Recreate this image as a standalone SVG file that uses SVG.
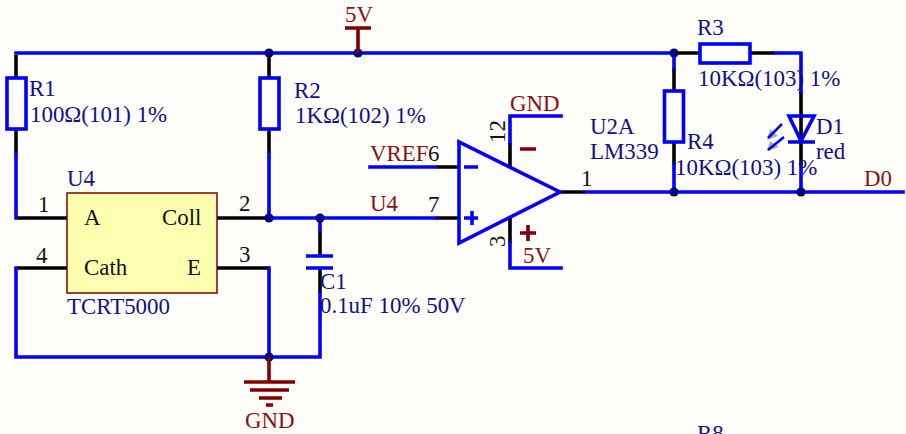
<svg xmlns="http://www.w3.org/2000/svg" width="906" height="434" viewBox="0 0 906 434">
<style>
.w{stroke:#0000ff;stroke-width:3.6;fill:none;stroke-linecap:square}
.k{stroke:#000;stroke-width:3.6;fill:none}
.r{stroke:#800000;stroke-width:3.6;fill:none}
.b{stroke:#0000ff;stroke-width:3.6;fill:none}
.d{fill:#000080}
text{font-family:"Liberation Serif","Times New Roman",serif;font-size:22.9px}
.n{fill:#10108c}
.m{fill:#8b1010}
.p{fill:#111}
</style>
<rect width="906" height="434" fill="#fffefb"/>
<g id="connectors">
<path class="k" d="M16 55V78M16 129V153M269 55V78M269 129V153M436 218H459M436 167H459M510 143V167M510 217V243M561 192H585M674 68V91M674 142V165M676 53H700M751 53H775M801 91V165M320 231V256M320 268V293M17 218H67M17 268H67M217 218H269M217 268H269"/>
<path class="w" d="M16 53H674M16 153V218M269 153V218M269 268V357M269 218H436M320 218V231M16 268V357H320V293M370 167H436M510 143V116H561M510 243V268H561M585 192H903M674 53V68M674 165V192M775 53H801V91M801 165V192"/>
</g>
<g id="junctions" class="d">
<circle cx="269" cy="53" r="4.600"/><circle cx="358" cy="53" r="4.600"/><circle cx="674" cy="53" r="4.600"/>
<circle cx="269" cy="218" r="4.600"/><circle cx="320" cy="218" r="4.600"/><circle cx="269" cy="357" r="4.600"/>
<circle cx="674" cy="192" r="4.600"/><circle cx="801" cy="192" r="4.600"/>
</g>
<g id="R1"><rect class="b" x="7" y="78" width="19" height="51"/><text class="n" x="29" y="96">R1</text><text class="n" x="30" y="122">100Ω(101) 1%</text></g>
<g id="R2"><rect class="b" x="260" y="78" width="19" height="51"/><text class="n" x="294" y="98">R2</text><text class="n" x="295" y="123">1KΩ(102) 1%</text></g>
<g id="R3"><rect class="b" x="700" y="44" width="50" height="19"/><text class="n" x="697" y="35">R3</text><text class="n" x="698" y="86">10KΩ(103) 1%</text></g>
<g id="R4"><rect class="b" x="664.500" y="91" width="19" height="51"/><text class="n" x="687" y="149">R4</text><text class="n" x="675" y="175">10KΩ(103) 1%</text></g>
<g id="D1">
<path class="b" d="M789 116H814L801 141ZM788 142H815"/>
<path d="M767 140L770 129L778 136ZM767 151L770 141L779 147Z" fill="#a8a8c0"/>
<path d="M782 124L768 138M784 137L768 150" stroke="#0000ff" stroke-width="2.500" fill="none"/>
<text class="n" x="816" y="134">D1</text><text class="n" x="816" y="159">red</text>
</g>
<g id="C1"><path class="b" d="M306 256H333M306 268H333"/><text class="n" x="320" y="289">C1</text><text class="n" x="320" y="313">0.1uF 10% 50V</text></g>
<g id="U4">
<rect x="67" y="193" width="150" height="100" fill="#ffffb0" stroke="#800000" stroke-width="1.500"/>
<text class="n" x="67" y="186">U4</text><text class="n" x="67" y="314">TCRT5000</text>
<text class="p" x="84" y="225">A</text><text class="p" x="162" y="225">Coll</text><text class="p" x="84" y="275">Cath</text><text class="p" x="187" y="275">E</text>
<text class="p" x="38" y="212">1</text><text class="p" x="239" y="211">2</text><text class="p" x="239" y="262">3</text><text class="p" x="36" y="263">4</text>
</g>
<g id="U2A">
<path class="b" d="M459 142V243L560 192Z"/>
<path class="b" d="M464 167H478M464 218H478M472 211V225"/>
<path class="r" d="M520 149H536M520 233H536M528 225V241"/>
<text class="n" x="590" y="134">U2A</text><text class="n" x="590" y="159">LM339</text>
<text class="p" x="428" y="161">6</text><text class="p" x="428" y="212">7</text><text class="p" x="581" y="186">1</text>
<text class="p" transform="translate(505 143) rotate(-90)">12</text><text class="p" transform="translate(505 247) rotate(-90)">3</text>
</g>
<g id="VREF"><text class="m" x="370" y="161">VREF</text></g>
<g id="netU4"><text class="m" x="370" y="211">U4</text></g>
<g id="GNDtop"><text class="m" x="510" y="111">GND</text></g>
<g id="V5bottom"><text class="m" x="523" y="263">5V</text></g>
<g id="D0"><text class="m" x="864" y="186">D0</text></g>
<g id="V5top"><path class="r" d="M358 53V28M345 28H371"/><text class="m" x="345" y="22">5V</text></g>
<g id="GND"><path class="r" d="M269 357V382M244 382H295M250 390H289M259 398H282M266 405H273"/><text class="m" x="245" y="428">GND</text></g>
<g id="R8"><text class="n" x="697" y="441">R8</text></g>
</svg>
